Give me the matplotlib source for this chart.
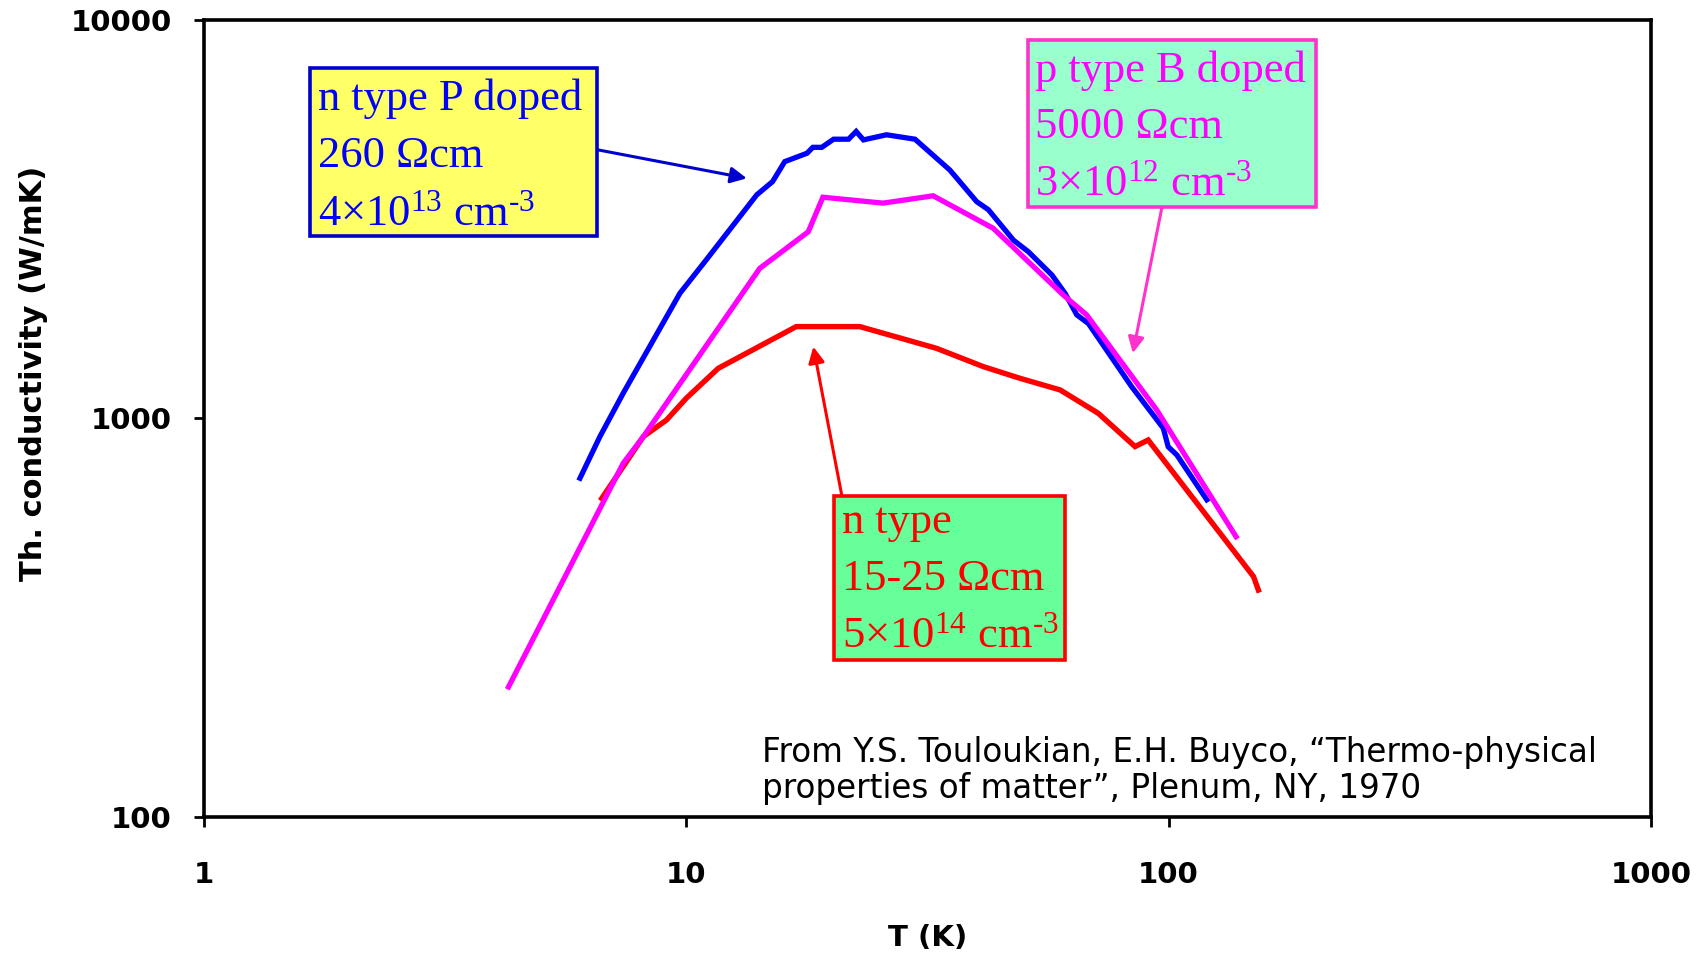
import matplotlib.pyplot as plt
from matplotlib.patches import Rectangle
from matplotlib.ticker import FixedLocator, FixedFormatter, NullLocator

plt.rcParams['mathtext.fontset'] = 'custom'
plt.rcParams['mathtext.rm'] = 'Liberation Serif'
plt.rcParams['mathtext.default'] = 'regular'

# n type P doped, 260 Ohm cm
T_nP = [6.02, 6.62, 7.40, 9.70, 11.0, 14.0, 15.1, 16.0, 17.8, 18.3, 19.1, 20.2, 21.7,
        22.5, 23.3, 26.0, 29.8, 35.2, 40.0, 42.3, 47.7, 51.2, 57.3, 61.0, 64.5,
        68.2, 83.8, 97.5, 99.8, 104, 120]
k_nP = [708, 900, 1157, 2061, 2500, 3640, 3930, 4410, 4630, 4790, 4790, 5020, 5020,
        5250, 5000, 5150, 5020, 4200, 3500, 3340, 2800, 2620, 2290, 2060, 1820,
        1730, 1202, 945, 849, 810, 625]

# p type B doped, 5000 Ohm cm
T_pB = [4.28, 7.40, 8.15, 14.2, 17.9, 19.2, 25.6, 32.5, 43.3, 60.5, 67.6, 75.6, 94.5, 138]
k_pB = [212, 772, 901, 2380, 2940, 3590, 3470, 3620, 3000, 2040, 1820, 1514, 1050, 505]

# n type, 15-25 Ohm cm
T_n = [6.68, 8.15, 9.10, 10.0, 11.65, 16.9, 22.9, 33.0, 41.3, 49.2, 59.6, 71.5, 85.2,
       90.7, 150, 153.5]
k_n = [630, 901, 991, 1124, 1336, 1700, 1700, 1500, 1349, 1261, 1179, 1030, 850,
       883, 401, 371]

x_ticks = [1, 10, 100, 1000]
y_ticks = [100, 1000, 10000]

fig = plt.figure(figsize=(17.08, 9.58), dpi=100)
ax = fig.add_axes([0.1194, 0.1472, 0.8472, 0.8320])

ax.plot(T_n, k_n, color='#FF0000', lw=3.9, solid_joinstyle='miter', zorder=3)
ax.plot(T_nP, k_nP, color='#0000FF', lw=3.8, solid_joinstyle='miter', zorder=4)
ax.plot(T_pB, k_pB, color='#FF00FF', lw=3.8, solid_joinstyle='miter', zorder=5)

ax.set_xscale('log')
ax.set_yscale('log')
ax.set_xlim(1, 1000)
ax.set_ylim(100, 10000)
ax.xaxis.set_major_locator(FixedLocator(x_ticks))
ax.xaxis.set_major_formatter(FixedFormatter([str(v) for v in x_ticks]))
ax.yaxis.set_major_locator(FixedLocator(y_ticks))
ax.yaxis.set_major_formatter(FixedFormatter([str(v) for v in y_ticks]))
ax.xaxis.set_minor_locator(NullLocator())
ax.yaxis.set_minor_locator(NullLocator())

for s in ax.spines.values():
    s.set_linewidth(2.6)
ax.tick_params(axis='both', direction='out', length=7, width=2)
ax.tick_params(axis='x', pad=25)
ax.tick_params(axis='y', pad=16)
for lab in ax.get_xticklabels() + ax.get_yticklabels():
    lab.set_fontsize(21)
    lab.set_fontweight('bold')

ax.set_xlabel('T (K)', fontsize=21, fontweight='bold')
ax.set_ylabel('Th. conductivity (W/mK)', fontsize=22, fontweight='bold')
ax.xaxis.set_label_coords(0.5, -0.134)
ax.yaxis.set_label_coords(-0.108, 0.557)

# annotation boxes
serif = 'Liberation Serif'
boxes = [
    (0.0733, 0.7290, 0.2716, 0.9398, '#FFFF66', '#0000CC', '#0000FF', 0.0788,
     [0.8871, 0.8156, 0.7428],
     ['n type P doped', '260 \u03a9cm', '4\u00d710$^{13}$ cm$^{\u20103}$']),
    (0.5695, 0.7654, 0.7685, 0.9749, '#99FFCC', '#FF33CC', '#FF00FF', 0.5743,
     [0.9222, 0.8519, 0.7804],
     ['p type B doped', '5000 \u03a9cm', '3\u00d710$^{12}$ cm$^{\u20103}$']),
    (0.4354, 0.1970, 0.5950, 0.4028, '#66FF99', '#FF0000', '#FF0000', 0.4409,
     [0.3563, 0.2848, 0.2133],
     ['n type', '15-25 \u03a9cm', '5\u00d710$^{14}$ cm$^{\u20103}$']),
]
for x0, y0, x1, y1, fc, ec, tc, tx, tys, lines in boxes:
    ax.add_patch(Rectangle((x0, y0), x1 - x0, y1 - y0, transform=ax.transAxes,
                           facecolor=fc, edgecolor=ec, lw=2.6, zorder=6, clip_on=False))
    for ty, line in zip(tys, lines):
        ax.text(tx, ty, line, transform=ax.transAxes, fontsize=32, family=serif,
                color=tc, ha='left', va='baseline', zorder=7)

arrows = [
    ((13.35, 4005), (6.56, 4720), '#0000CC'),
    ((84.3, 1458), (96.9, 3395), '#FF33CC'),
    ((18.34, 1514), (21.0, 643), '#FF0000'),
]
for tip, tail, c in arrows:
    ax.annotate('', xy=tip, xytext=tail,
                arrowprops=dict(arrowstyle='-|>', color=c, lw=2.2, mutation_scale=24,
                                shrinkA=0, shrinkB=0), zorder=6)

ax.text(0.3856, 0.069, 'From Y.S. Touloukian, E.H. Buyco, \u201cThermo-physical',
        transform=ax.transAxes, fontsize=23.5, family='DejaVu Sans', va='baseline')
ax.text(0.3856, 0.0238, 'properties of matter\u201d, Plenum, NY, 1970',
        transform=ax.transAxes, fontsize=23.5, family='DejaVu Sans', va='baseline')

fig.savefig('out.png', dpi=100)
